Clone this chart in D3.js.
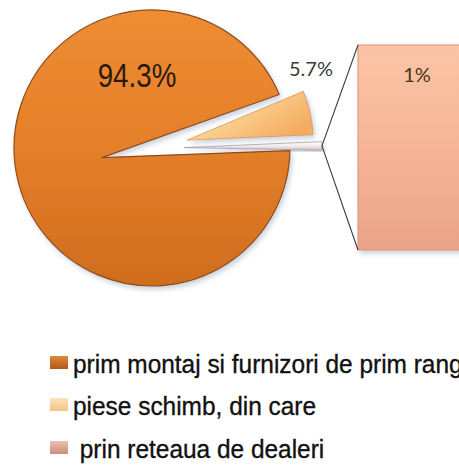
<!DOCTYPE html>
<html>
<head>
<meta charset="utf-8">
<script src="https://cdn.jsdelivr.net/npm/d3@7"></script>
<style>
  html, body { margin: 0; padding: 0; background: #fff; }
  svg { display: block; }
</style>
</head>
<body>
<div id="chart"></div>
<script>
// data
var categories = ["prim montaj si furnizori de prim rang", "piese schimb, din care", " prin reteaua de dealeri"];
var pieValues = [94.3, 5.7, 1];
var pieLabels = ["94.3%", "5.7%"];
var barValues = [1];
var barLabels = ["1%"];

var width = 459, height = 471;

var svg = d3.select("#chart")
  .append("svg")
  .attr("width", width)
  .attr("height", height);

var defs = svg.append("defs");

// soft shadow like the office bevel look
var shadow = defs.append("filter").attr("id", "shadow")
  .attr("x", "-20%").attr("y", "-20%").attr("width", "140%").attr("height", "140%");
shadow.append("feDropShadow")
  .attr("dx", 2).attr("dy", 3).attr("stdDeviation", 2.5)
  .attr("flood-color", "#8c9bb0").attr("flood-opacity", 0.45);

function linGrad(id, stops, x2, y2) {
  var g = defs.append("linearGradient").attr("id", id)
    .attr("x1", 0).attr("y1", 0).attr("x2", x2 || 0).attr("y2", y2 === undefined ? 1 : y2);
  stops.forEach(function(s) {
    g.append("stop").attr("offset", s[0]).attr("stop-color", s[1]);
  });
}
linGrad("gBig", [[0, "#ee8d33"], [0.5, "#e47f29"], [1, "#cf6d1e"]]);
linGrad("gLight", [[0, "#fdebc6"], [0.5, "#fbcf8e"], [1, "#f4ac60"]], 1, 0.6);
linGrad("gOther", [[0, "#ffffff"], [0.5, "#f3ecee"], [1, "#c9bfc2"]]);
linGrad("gBar", [[0, "#fbc4a6"], [0.5, "#f6b597"], [1, "#eaa487"]]);
linGrad("gM0", [[0, "#e08a3c"], [1, "#b0571a"]]);
linGrad("gM1", [[0, "#fde3bc"], [1, "#f6c286"]]);
linGrad("gM2", [[0, "#ecc0ac"], [1, "#c98f7a"]]);

// pie geometry
var cx = 152, cy = 148, R = 138;
var explode = [51, 36, 32];   // big, light, other
var radius = [138, 126, 138];
var startA = 67.2 * Math.PI / 180;

// clockwise from the gap: light slice, other sliver, big slice
var order = [1, 2, 0];
var arcs = d3.pie()
  .sort(null)
  .value(function(i) { return pieValues[i]; })
  .startAngle(startA)
  .endAngle(startA + 2 * Math.PI)(order);

function dir(a) { return [Math.sin(a), -Math.cos(a)]; }

var fills = ["url(#gBig)", "url(#gLight)", "url(#gOther)"];
var strokes = ["#8e4c15", "#d9975a", "#a9a0a4"];

var pieG = svg.append("g");

arcs.forEach(function(d) {
  var i = d.data;
  var mid = (d.startAngle + d.endAngle) / 2;
  var u = dir(mid);
  var ox = u[0] * explode[i], oy = u[1] * explode[i];
  var path;
  if (i === 0) {
    // big slice: notch point pulled out, rim stays on the circle
    var p = d3.path();
    p.moveTo(cx + ox, cy + oy);
    p.arc(cx, cy, R, d.startAngle - Math.PI / 2, d.endAngle - Math.PI / 2);
    p.closePath();
    path = pieG.append("path").attr("d", p.toString());
  } else {
    var arc = d3.arc().innerRadius(0).outerRadius(radius[i]);
    path = pieG.append("path")
      .attr("d", arc(d))
      .attr("transform", "translate(" + (cx + ox) + "," + (cy + oy) + ")");
  }
  path.attr("fill", fills[i])
    .attr("stroke", strokes[i])
    .attr("stroke-width", i === 0 ? 1.2 : 0.8)
    .attr("stroke-linejoin", "round")
    .attr("filter", "url(#shadow)");
  d.tip = [cx + ox + u[0] * radius[i], cy + oy + u[1] * radius[i]];
});

// bar on the right
var x = d3.scaleBand().domain(barLabels).range([358, 472]).padding(0);
var y = d3.scaleLinear().domain([0, d3.sum(barValues)]).range([250, 45]);

svg.append("g").selectAll("rect")
  .data(barValues)
  .enter().append("rect")
  .attr("x", function(d, i) { return x(barLabels[i]); })
  .attr("y", function(d) { return y(d); })
  .attr("width", x.bandwidth())
  .attr("height", function(d) { return y(0) - y(d); })
  .attr("fill", "url(#gBar)")
  .attr("stroke", "#d99378")
  .attr("stroke-width", 1)
  .attr("filter", "url(#shadow)");

// connector lines from the sliver tip to the bar
var other = arcs.filter(function(d) { return d.data === 2; })[0];
var tip = other.tip;
svg.append("g").selectAll("line")
  .data([y(d3.sum(barValues)), y(0)])
  .enter().append("line")
  .attr("x1", tip[0]).attr("y1", tip[1])
  .attr("x2", x(barLabels[0])).attr("y2", function(d) { return d; })
  .attr("stroke", "#3c3c3c")
  .attr("stroke-width", 1.1);

// labels
svg.append("text")
  .attr("transform", "translate(137,87) scale(0.84,1)")
  .attr("text-anchor", "middle")
  .style("font-family", "'Liberation Sans', Arial, sans-serif")
  .style("font-size", "33px")
  .attr("fill", "#2a1a0e")
  .text(pieLabels[0]);

svg.append("text")
  .attr("x", 311).attr("y", 76)
  .attr("text-anchor", "middle")
  .style("font-family", "Lato, 'Open Sans', sans-serif")
  .style("font-size", "20px")
  .attr("fill", "#3a3a3a")
  .text(pieLabels[1]);

svg.append("text")
  .attr("x", x(barLabels[0]) + 59).attr("y", 82)
  .attr("text-anchor", "middle")
  .style("font-family", "Lato, 'Open Sans', sans-serif")
  .style("font-size", "20px")
  .attr("fill", "#4a3322")
  .text(barLabels[0]);

// legend
var legendY = [373, 415, 458];
var markFill = ["url(#gM0)", "url(#gM1)", "url(#gM2)"];
var leg = svg.append("g").selectAll("g")
  .data(categories)
  .enter().append("g");

leg.append("rect")
  .attr("x", 50)
  .attr("y", function(d, i) { return legendY[i] - 17; })
  .attr("width", 18).attr("height", 13)
  .attr("fill", function(d, i) { return markFill[i]; });

leg.append("text")
  .attr("transform", function(d, i) { return "translate(73," + legendY[i] + ") scale(0.94,1)"; })
  .style("font-family", "'Liberation Sans', Arial, sans-serif")
  .style("font-size", "26px")
  .style("white-space", "pre")
  .attr("fill", "#111")
  .attr("stroke", "#111")
  .attr("stroke-width", 0.35)
  .text(function(d) { return d; });
</script>
</body>
</html>
